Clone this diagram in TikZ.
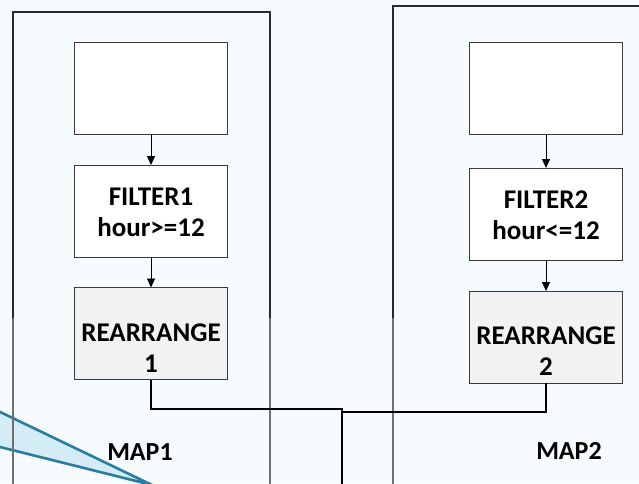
\documentclass[tikz,border=0pt]{standalone}
\usepackage{fontspec}
\setmainfont{Carlito}
\usetikzlibrary{arrows.meta}
\definecolor{pagebg}{HTML}{F6FBFD}
\definecolor{calloutfill}{HTML}{D4ECF5}
\definecolor{calloutline}{HTML}{2B7CA1}
\definecolor{boxline}{HTML}{3A3A3A}
\definecolor{rearrfill}{HTML}{F2F2F2}
\definecolor{darkedge}{HTML}{2A2A2A}
\definecolor{lightedge}{HTML}{707070}
\tikzset{
  procbox/.style={draw=boxline, line width=0.9pt, fill=white, minimum width=153pt,
    minimum height=92pt, inner sep=0pt, outer sep=0pt},
  rearrbox/.style={procbox, fill=rearrfill},
  boxtext/.style={font=\bfseries\fontsize{27}{31}\selectfont, align=center, inner sep=0pt},
  maptext/.style={font=\bfseries\fontsize{26}{30}\selectfont, inner sep=0pt},
  container/.style={draw=darkedge, line width=1.4pt},
  containerlow/.style={draw=lightedge, line width=1.4pt},
  flow/.style={draw=black, line width=0.9pt, -{Triangle[length=9pt,width=8pt]}},
  link/.style={draw=black, line width=1.2pt},
}
\begin{document}
\begin{tikzpicture}[x=1pt, y=-1pt]
  \useasboundingbox (0,0) rectangle (639,483);
  \fill[pagebg] (0,0) rectangle (639,483);
  \begin{scope}
    \clip (0,0) rectangle (639,483);
    % callout wedge entering from the left
    \filldraw[fill=calloutfill, draw=calloutline, line width=2.6pt, line join=miter]
      (-20,402.3) -- (152,485) -- (-20,442) -- cycle;
    % map containers: upper part dark, lower part lighter
    \draw[container] (13,318) -- (13,12) -- (270,12) -- (270,318);
    \draw[containerlow] (13,318) -- (13,520);
    \draw[containerlow] (270,318) -- (270,520);
    \draw[container] (393,318) -- (393,6) -- (680,6);
    \draw[containerlow] (393,318) -- (393,520);
  \end{scope}

  % MAP1 pipeline
  \node[procbox] (in1) at (151,88) {};
  \node[procbox] (f1) at (151,211) {};
  \node[boxtext] (f1t) at (151,212) {FILTER1\\hour>=12};
  \node[rearrbox] (r1) at (151,333.5) {};
  \node[boxtext] (r1t) at (151,348) {REARRANGE\\1};
  \draw[flow] (in1) -- (f1);
  \draw[flow] (f1) -- (r1);
  \node[maptext] (m1) at (140,452) {MAP1};

  % MAP2 pipeline
  \node[procbox] (in2) at (546,88) {};
  \node[procbox] (f2) at (546,214) {};
  \node[boxtext] (f2t) at (546,215) {FILTER2\\hour<=12};
  \node[rearrbox] (r2) at (546,337) {};
  \node[boxtext] (r2t) at (546,351) {REARRANGE\\2};
  \draw[flow] (in2) -- (f2);
  \draw[flow] (f2) -- (r2);
  \node[maptext] (m2) at (569,451) {MAP2};

  % outputs of both maps merge and leave downwards
  \coordinate (out) at (342,490);
  \draw[link] (r1.south) -- (151,409) -| (out);
  \draw[link] (r2.south) -- (546,412) -| (out);
\end{tikzpicture}
\end{document}
